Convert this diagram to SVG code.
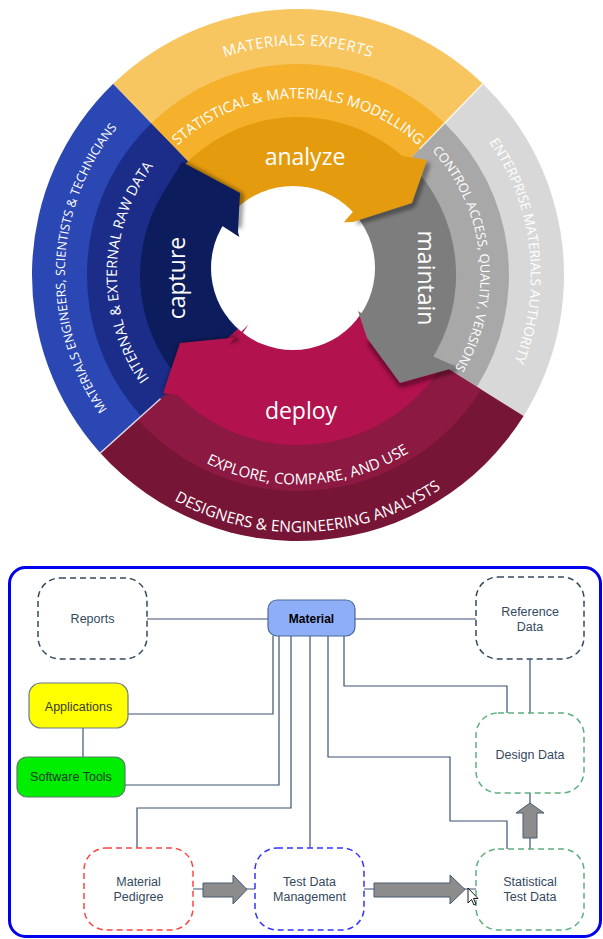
<svg xmlns="http://www.w3.org/2000/svg" width="603" height="939" viewBox="0 0 603 939">
<defs>
<style>
.ct{font-family:"Open Sans","Liberation Sans",sans-serif;fill:#ffffff;text-anchor:middle;}
.lbl{font-family:"Open Sans","Liberation Sans",sans-serif;fill:#ffffff;font-size:23px;text-anchor:middle;}
.n{font-family:"Liberation Sans",Arial,sans-serif;font-size:12.5px;fill:#34495e;text-anchor:middle;}
.dash{fill:#ffffff;stroke-width:1.5;stroke-dasharray:6 4;}
.conn{fill:none;stroke:#3b5373;stroke-width:1.2;}
.barrow{fill:#8c8c8c;stroke:#4a5a70;stroke-width:1;}
.sep{stroke:#ffffff;stroke-width:1.5;stroke-opacity:0.8;}
.shade{fill:none;stroke:#000000;stroke-opacity:0.45;stroke-width:5;stroke-linejoin:round;}
</style>
<filter id="blur" x="-20%" y="-20%" width="140%" height="140%">
<feGaussianBlur stdDeviation="2"/>
</filter>
<path id="pTopOut" d="M68.9,255 A230,230 0 0 1 527.1,255"/>
<path id="pTopMid" d="M121.7,259.6 A177,177 0 0 1 474.3,259.6"/>
<path id="pLeftOut" d="M269.6,506.3 A233,233 0 0 1 285.8,42.3"/>
<path id="pRightOut" d="M291.9,42.1 A233,233 0 0 1 344.5,503.3"/>
<path id="pLeftMid" d="M279.1,455 A181,181 0 0 1 285.4,94.4"/>
<path id="pRightMid" d="M278.9,93 A183,183 0 0 1 317.1,457"/>
<path id="pBotMid" d="M91,304.1 A209,209 0 0 0 506.9,282.3"/>
<path id="pBotOut" d="M43.2,308.5 A257,257 0 0 0 554.8,286.2"/>
</defs>
<rect width="603" height="939" fill="#ffffff"/>

<g id="wheel">
  <g id="outer-ring">
    <path d="M298,275 L100.3,453 A266,266 0 0 1 113.2,83.7 Z" fill="#2b47b3"/>
    <path d="M298,275 L113.2,83.7 A266,266 0 0 1 482.8,83.7 Z" fill="#f8c660"/>
    <path d="M298,275 L482.8,83.7 A266,266 0 0 1 523.6,416 Z" fill="#d8d8d8"/>
    <path d="M298,275 L523.6,416 A266,266 0 0 1 100.3,453 Z" fill="#771536"/>
  </g>
  <g id="middle-ring">
    <path d="M298,275 L141.2,416.2 A211,211 0 0 1 151.4,123.2 Z" fill="#1b2d88"/>
    <path d="M298,275 L151.4,123.2 A211,211 0 0 1 444.6,123.2 Z" fill="#f5b12c"/>
    <path d="M298,275 L444.6,123.2 A211,211 0 0 1 476.9,386.8 Z" fill="#a8a8a8"/>
    <path d="M298,275 L481.2,389.5 A216,216 0 0 1 137.5,419.5 Z" fill="#8c1942"/>
  </g>
  <g id="arrow-bodies">
    <path d="M180.6,380.7 A158,158 0 0 1 170.2,182.1 L241.4,233.9 A70,70 0 0 0 246,321.8 Z" fill="#0d1c5c"/>
    <path d="M170.2,182.1 A158,158 0 0 1 407.8,161.3 L346.6,224.6 A70,70 0 0 0 241.4,233.9 Z" fill="#e49b0e"/>
    <path d="M407.8,161.3 A158,158 0 0 1 429,363.4 L356,314.1 A70,70 0 0 0 346.6,224.6 Z" fill="#7d7d7d"/>
    <path d="M438.9,370.1 A170,170 0 0 1 171.7,388.8 L246,321.8 A70,70 0 0 0 356,314.1 Z" fill="#b2124e"/>
  </g>
  <circle id="hole" cx="293" cy="268" r="82" fill="#ffffff"/>
  <g id="head-shadows" filter="url(#blur)">
    <polyline class="shade" points="184,164 241,195 239,228"/>
    <polyline class="shade" points="428,163 413,205 357,222"/>
    <polyline class="shade" points="457,369 401,385 369,342"/>
    <polyline class="shade" points="165,394 182,345 238,339"/>
  </g>
  <g id="arrow-heads">
    <polygon points="165.5,189 182,162 240,193 238,232 239.3,236.9" fill="#0d1c5c"/>
    <polygon points="401.7,155.8 427,160 412,203 353,222 343.9,222.2" fill="#e49b0e"/>
    <polygon points="433.4,356.4 457,367 400,383 367,338 358,311.1" fill="#7d7d7d"/>
    <polygon points="177.8,395.2 163,393 180,343 240,337 248.5,324.5" fill="#b2124e"/>
  </g>
  <g id="separators">
    <line class="sep" x1="419.6" y1="149.1" x2="482.8" y2="83.7"/>
    <line class="sep" x1="160.5" y1="398.8" x2="100.3" y2="453"/>
  </g>
  <g id="ring-texts">
    <text class="ct" font-size="15" letter-spacing="0.4"><textPath href="#pTopOut" startOffset="50%">MATERIALS EXPERTS</textPath></text>
    <text class="ct" font-size="14.5"><textPath href="#pTopMid" startOffset="50%">STATISTICAL &amp; MATERIALS MODELLING</textPath></text>
    <text class="ct" font-size="12.5"><textPath href="#pLeftOut" startOffset="50%">MATERIALS ENGINEERS, SCIENTISTS &amp; TECHNICIANS</textPath></text>
    <text class="ct" font-size="13.7"><textPath href="#pRightOut" startOffset="50%">ENTERPRISE MATERIALS AUTHORITY</textPath></text>
    <text class="ct" font-size="14.3"><textPath href="#pLeftMid" startOffset="50%">INTERNAL &amp; EXTERNAL RAW DATA</textPath></text>
    <text class="ct" font-size="12.9"><textPath href="#pRightMid" startOffset="50%">CONTROL ACCESS, QUALITY, VERSIONS</textPath></text>
    <text class="ct" font-size="15"><textPath href="#pBotMid" startOffset="50%">EXPLORE, COMPARE, AND USE</textPath></text>
    <text class="ct" font-size="15.5"><textPath href="#pBotOut" startOffset="50%">DESIGNERS &amp; ENGINEERING ANALYSTS</textPath></text>
  </g>
  <g id="stage-labels">
    <text class="lbl" x="305" y="165">analyze</text>
    <text class="lbl" transform="translate(185,278) rotate(-90)">capture</text>
    <text class="lbl" transform="translate(418,278) rotate(90)">maintain</text>
    <text class="lbl" x="301" y="419">deploy</text>
  </g>
</g>

<g id="frame">
  <rect x="9.5" y="567.5" width="591" height="369" rx="16" fill="#ffffff" stroke="#0000ee" stroke-width="3"/>
</g>

<g id="connectors">
  <path class="conn" d="M147,619 H268"/>
  <path class="conn" d="M355,619 H476"/>
  <path class="conn" d="M530,659 V713"/>
  <path class="conn" d="M344,636 V686 H507 V713"/>
  <path class="conn" d="M128,714 H273 V636"/>
  <path class="conn" d="M125,785 H279 V636"/>
  <path class="conn" d="M137,848 V808 H291 V636"/>
  <path class="conn" d="M310,848 V636"/>
  <path class="conn" d="M328,636 V757 H450 V821 H507 V849"/>
  <path class="conn" d="M530,793 V849"/>
  <path class="conn" d="M83,728 V757"/>
  <path class="conn" d="M193,889 H255"/>
  <path class="conn" d="M364,889 H476"/>
  <polygon class="barrow" points="203,883 233,883 233,875 247,889.5 233,904 233,897 203,897"/>
  <polygon class="barrow" points="374,883 450,883 450,875 465,889.5 450,904 450,897 374,897"/>
  <polygon class="barrow" points="523,838 523,813 516,813 530,803 544,813 537,813 537,838"/>
</g>

<g id="n-reports">
  <rect class="dash" x="38" y="578" width="109" height="81" rx="22" stroke="#34495e"/>
  <text class="n" x="92.5" y="623">Reports</text>
</g>
<g id="n-material">
  <rect x="268" y="600" width="87" height="36" rx="9" fill="#8eaff8" stroke="#4a6a9a" stroke-width="1.2"/>
  <text class="n" x="311.5" y="622.5" style="font-weight:bold;fill:#000;font-size:12px">Material</text>
</g>
<g id="n-reference">
  <rect class="dash" x="476" y="577" width="108" height="82" rx="22" stroke="#34495e"/>
  <text class="n" x="530" y="616">Reference</text>
  <text class="n" x="530" y="631">Data</text>
</g>
<g id="n-applications">
  <rect x="29" y="683" width="99" height="45" rx="12" fill="#ffff00" stroke="#6b7b8c" stroke-width="1.2"/>
  <text class="n" x="78.5" y="711" style="fill:#3a3a2a">Applications</text>
</g>
<g id="n-software">
  <rect x="17" y="757" width="108" height="40" rx="10" fill="#00ee00" stroke="#5a7a6a" stroke-width="1.2"/>
  <text class="n" x="71" y="781" style="fill:#1f3b2a">Software Tools</text>
</g>
<g id="n-design">
  <rect class="dash" x="476" y="713" width="108" height="80" rx="22" stroke="#5fae7e"/>
  <text class="n" x="530" y="759">Design Data</text>
</g>
<g id="n-pedigree">
  <rect class="dash" x="84" y="848" width="109" height="82" rx="22" stroke="#ff4444"/>
  <text class="n" x="138.5" y="886">Material</text>
  <text class="n" x="138.5" y="901">Pedigree</text>
</g>
<g id="n-testdata">
  <rect class="dash" x="255" y="848" width="109" height="82" rx="22" stroke="#3333ff"/>
  <text class="n" x="309.5" y="886">Test Data</text>
  <text class="n" x="309.5" y="901">Management</text>
</g>
<g id="n-statistical">
  <rect class="dash" x="476" y="849" width="108" height="81" rx="22" stroke="#5fae7e"/>
  <text class="n" x="530" y="886">Statistical</text>
  <text class="n" x="530" y="901">Test Data</text>
</g>
<g id="cursor">
  <polygon points="468,888 468,903 471.5,899.5 474,905 476,904 473.5,898.5 478,898.5" fill="#ffffff" stroke="#000000" stroke-width="0.9"/>
</g>
</svg>
